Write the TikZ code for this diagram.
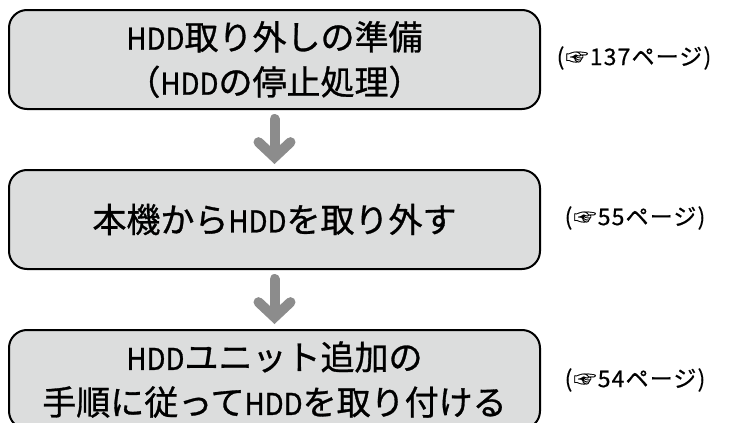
\documentclass[tikz,border=0pt]{standalone}
\usepackage{fontspec}
\setmainfont{Noto Sans CJK JP}[FakeBold=0.9]
\newfontfamily\narrowlatin{Noto Sans CJK JP}[FakeStretch=0.92,FakeBold=0.9]
\newfontfamily\reffont{Noto Sans CJK JP}[LetterSpace=5,FakeBold=0.5]
\newcommand{\lat}[1]{{\narrowlatin\fontsize{30}{45}\selectfont #1}}
\usepackage{xcolor}
\usetikzlibrary{arrows.meta,positioning}
\definecolor{boxgray}{RGB}{220,221,221}
\definecolor{arrowgray}{RGB}{140,140,140}

\begin{document}
\begin{tikzpicture}[x=1pt,y=1pt,
  stepbox/.style={rectangle,draw=black,line width=2pt,fill=boxgray,rounded corners=18pt,
    minimum width=531pt,minimum height=99pt,align=center,inner sep=0pt,
    font=\fontsize{34}{45}\selectfont},
  pageref/.style={font=\reffont\fontsize{23}{24}\selectfont,inner sep=0pt},
  flowarrow/.style={draw=arrowgray,line width=10pt,line cap=round,
    -{Straight Barb[length=15pt,width=32pt,line cap=round,line join=miter]}}]
\useasboundingbox (0,0) rectangle (732,-423);
\node[stepbox] (prep) at (274.5,-59.5) {\lat{HDD}取り外しの準備\\（\lat{HDD}の停止処理）};
\node[stepbox] (remove) at (274.5,-219.5) {本機から\lat{HDD}を取り外す};
\node[stepbox] (attach) at (274.5,-379.5) {\lat{HDD}ユニット追加の\\手順に従って\lat{HDD}を取り付ける};
\node[pageref] (ref1) at (634,-58) {(☞137ページ)};
\node[pageref] (ref2) at (635,-218) {(☞55ページ)};
\node[pageref] (ref3) at (635,-380) {(☞54ページ)};
\draw[flowarrow] ([yshift=-9pt]prep.south) -- ([yshift=5pt]remove.north);
\draw[flowarrow] ([yshift=-9pt]remove.south) -- ([yshift=5pt]attach.north);
\end{tikzpicture}
\end{document}
